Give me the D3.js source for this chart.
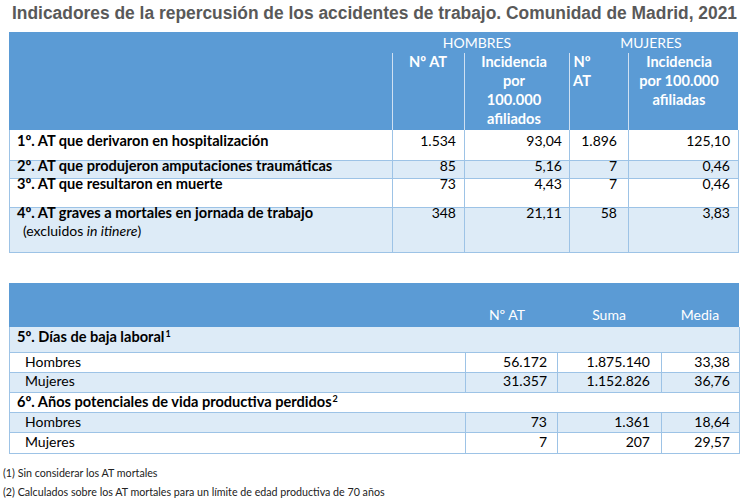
<!DOCTYPE html>
<html><head><meta charset="utf-8">
<script src="https://cdn.jsdelivr.net/npm/d3@7"></script>
<style>body{margin:0;background:#fff}svg{display:block}</style></head>
<body>
<script>
// ---- data ----
const title = "Indicadores de la repercusión de los accidentes de trabajo. Comunidad de Madrid, 2021";
const groups = ["HOMBRES", "MUJERES"];
const t1Headers = [["Nº AT"], ["Incidencia", "por", "100.000", "afiliados"], ["Nº", "AT"], ["Incidencia", "por 100.000", "afiliadas"]];
const t1Labels = ["1º. AT que derivaron en hospitalización", "2º. AT que produjeron amputaciones traumáticas", "3º. AT que resultaron en muerte", "4º. AT graves a mortales en jornada de trabajo"];
const hombresNAT = ["1.534", "85", "73", "348"];
const hombresInc = ["93,04", "5,16", "4,43", "21,11"];
const mujeresNAT = ["1.896", "7", "7", "58"];
const mujeresInc = ["125,10", "0,46", "0,46", "3,83"];
const t2Headers = ["Nº AT", "Suma", "Media"];
const t2Sections = ["5º. Días de baja laboral", "6º. Años potenciales de vida productiva perdidos"];
const t2SectionNotes = ["1", "2"];
const t2Sex = ["Hombres", "Mujeres"];
const t2NAT = [["56.172", "31.357"], ["73", "7"]];
const t2Suma = [["1.875.140", "1.152.826"], ["1.361", "207"]];
const t2Media = [["33,38", "36,76"], ["18,64", "29,57"]];
const footnotes = ["(1) Sin considerar los AT mortales", "(2) Calculados sobre los AT mortales para un límite de edad productiva de 70 años"];

// ---- style ----
const W = 747, H = 503;
const BLUE = "#5b9bd5", LIGHT = "#ddebf7", LINE = "#9dc3e6";
const FONT = "Lato, 'Open Sans', sans-serif";
const BOLD_SIZE = 14.6, REG_SIZE = 14;

const svg = d3.select("body").append("svg").attr("width", W).attr("height", H)
  .style("font-family", FONT);

svg.append("text").attr("x", 12).attr("y", 19)
  .attr("font-family", "'Liberation Sans', Arial, sans-serif")
  .attr("font-weight", "bold").attr("font-size", 17.5).attr("fill", "#595959")
  .attr("textLength", 725).attr("lengthAdjust", "spacingAndGlyphs")
  .text(title);

// ---------- TABLE 1 ----------
const c1 = [9, 392, 464, 569, 628, 738];
const h1Top = 32, h1Bot = 130;
const r1Edges = [130, 160, 178, 207, 252];
const r1Base = [146, 171, 189, 218];
const rowY1 = d3.scaleOrdinal().domain(d3.range(4)).range(r1Edges.slice(0, 4));
const rowH1 = i => r1Edges[i + 1] - r1Edges[i];

svg.append("rect").attr("x", c1[0]).attr("y", h1Top).attr("width", c1[5] - c1[0]).attr("height", h1Bot - h1Top).attr("fill", BLUE);
svg.selectAll(".hsep").data([1, 2, 3, 4]).join("line")
  .attr("x1", d => c1[d] + 0.5).attr("x2", d => c1[d] + 0.5).attr("y1", 53).attr("y2", h1Bot)
  .attr("stroke", "#cfe0f2").attr("stroke-width", 1);
svg.selectAll(".grp").data(groups).join("text")
  .attr("x", (d, i) => i === 0 ? 477 : 651).attr("y", 48)
  .attr("text-anchor", "middle").attr("fill", "#fff").attr("font-size", REG_SIZE).text(d => d);
const subX = [428, 514, 582, 679];
t1Headers.forEach((lines, j) => {
  svg.selectAll(null).data(lines).join("text")
    .attr("x", subX[j]).attr("y", (d, k) => 67 + k * 19)
    .attr("text-anchor", "middle").attr("fill", "#fff").attr("font-weight", "bold").attr("font-size", BOLD_SIZE)
    .text(d => d);
});

const g1 = svg.append("g");
g1.selectAll("rect").data(t1Labels).join("rect")
  .attr("x", c1[0]).attr("y", (d, i) => rowY1(i)).attr("width", c1[5] - c1[0]).attr("height", (d, i) => rowH1(i))
  .attr("fill", (d, i) => i % 2 ? LIGHT : "#fff");
g1.selectAll(".hl").data(r1Edges.slice(1)).join("line")
  .attr("x1", c1[0]).attr("x2", c1[5]).attr("y1", d => d + 0.5).attr("y2", d => d + 0.5)
  .attr("stroke", LINE);
g1.selectAll(".vl").data(c1).join("line")
  .attr("x1", d => d + 0.5).attr("x2", d => d + 0.5).attr("y1", h1Bot).attr("y2", r1Edges[4] + 1)
  .attr("stroke", LINE);
g1.selectAll(".lab").data(t1Labels).join("text")
  .attr("x", 17).attr("y", (d, i) => r1Base[i]).attr("font-weight", "bold").attr("font-size", BOLD_SIZE).attr("fill", "#000")
  .text(d => d);
const note = g1.append("text").attr("x", 23).attr("y", 236).attr("font-size", REG_SIZE).attr("fill", "#000");
note.append("tspan").text("(excluidos ");
note.append("tspan").attr("font-style", "italic").text("in itinere");
note.append("tspan").text(")");
const t1Cols = [hombresNAT, hombresInc, mujeresNAT, mujeresInc];
const pad1 = [8, 7, 11, 8];
t1Cols.forEach((col, j) => {
  g1.selectAll(null).data(col).join("text")
    .attr("x", c1[j + 2] - pad1[j]).attr("y", (d, i) => r1Base[i])
    .attr("text-anchor", "end").attr("font-size", REG_SIZE).attr("fill", "#000").text(d => d);
});

// ---------- TABLE 2 ----------
const c2 = [9, 465, 557, 661, 739];
const h2Top = 283, h2Bot = 327;
const r2Edges = [327, 352, 372, 392, 412, 432, 453];
const r2Base = [342, 367, 386, 407, 427, 447];
svg.append("rect").attr("x", c2[0]).attr("y", h2Top).attr("width", c2[4] - c2[0]).attr("height", h2Bot - h2Top).attr("fill", BLUE);
const hdrX2 = [507, 609, 700];
svg.selectAll(".h2").data(t2Headers).join("text")
  .attr("x", (d, i) => hdrX2[i]).attr("y", 320).attr("text-anchor", "middle")
  .attr("fill", "#fff").attr("font-size", REG_SIZE).text(d => d);

const rows2 = [];
t2Sections.forEach((s, si) => {
  rows2.push({ type: "sec", label: s, sup: t2SectionNotes[si] });
  t2Sex.forEach((sx, k) => rows2.push({ type: "data", label: sx, vals: [t2NAT[si][k], t2Suma[si][k], t2Media[si][k]] }));
});
const g2 = svg.append("g");
g2.selectAll("rect").data(rows2).join("rect")
  .attr("x", c2[0]).attr("y", (d, i) => r2Edges[i]).attr("width", c2[4] - c2[0])
  .attr("height", (d, i) => r2Edges[i + 1] - r2Edges[i])
  .attr("fill", (d, i) => i % 2 ? "#fff" : LIGHT);
g2.selectAll(".hl").data(r2Edges.slice(1)).join("line")
  .attr("x1", c2[0]).attr("x2", c2[4]).attr("y1", d => d + 0.5).attr("y2", d => d + 0.5).attr("stroke", LINE);
g2.selectAll(".ov").data([c2[0], c2[4]]).join("line")
  .attr("x1", d => d + 0.5).attr("x2", d => d + 0.5).attr("y1", h2Bot).attr("y2", r2Edges[6] + 1).attr("stroke", LINE);
rows2.forEach((r, i) => {
  if (r.type !== "data") return;
  g2.selectAll(null).data(c2.slice(1, 4)).join("line")
    .attr("x1", d => d + 0.5).attr("x2", d => d + 0.5).attr("y1", r2Edges[i]).attr("y2", r2Edges[i + 1])
    .attr("stroke", LINE);
});
const labs2 = g2.selectAll(".lab").data(rows2).join("text")
  .attr("x", d => d.type === "sec" ? 17 : 25).attr("y", (d, i) => r2Base[i])
  .attr("font-weight", d => d.type === "sec" ? "bold" : "normal")
  .attr("font-size", d => d.type === "sec" ? BOLD_SIZE : REG_SIZE).attr("fill", "#000");
labs2.append("tspan").text(d => d.label);
labs2.filter(d => d.sup).append("tspan").attr("font-size", 9).attr("dy", -5).attr("dx", 1).text(d => d.sup);
const pad2 = [10, 11, 9];
rows2.forEach((r, i) => {
  if (r.type !== "data") return;
  g2.selectAll(null).data(r.vals).join("text")
    .attr("x", (d, j) => c2[j + 2] - pad2[j]).attr("y", r2Base[i])
    .attr("text-anchor", "end").attr("font-size", REG_SIZE).attr("fill", "#000").text(d => d);
});

svg.selectAll(".fn").data(footnotes).join("text")
  .attr("x", 3).attr("y", (d, i) => 477 + i * 19)
  .attr("font-size", 10.7).attr("fill", "#222").text(d => d);
</script>
</body></html>
